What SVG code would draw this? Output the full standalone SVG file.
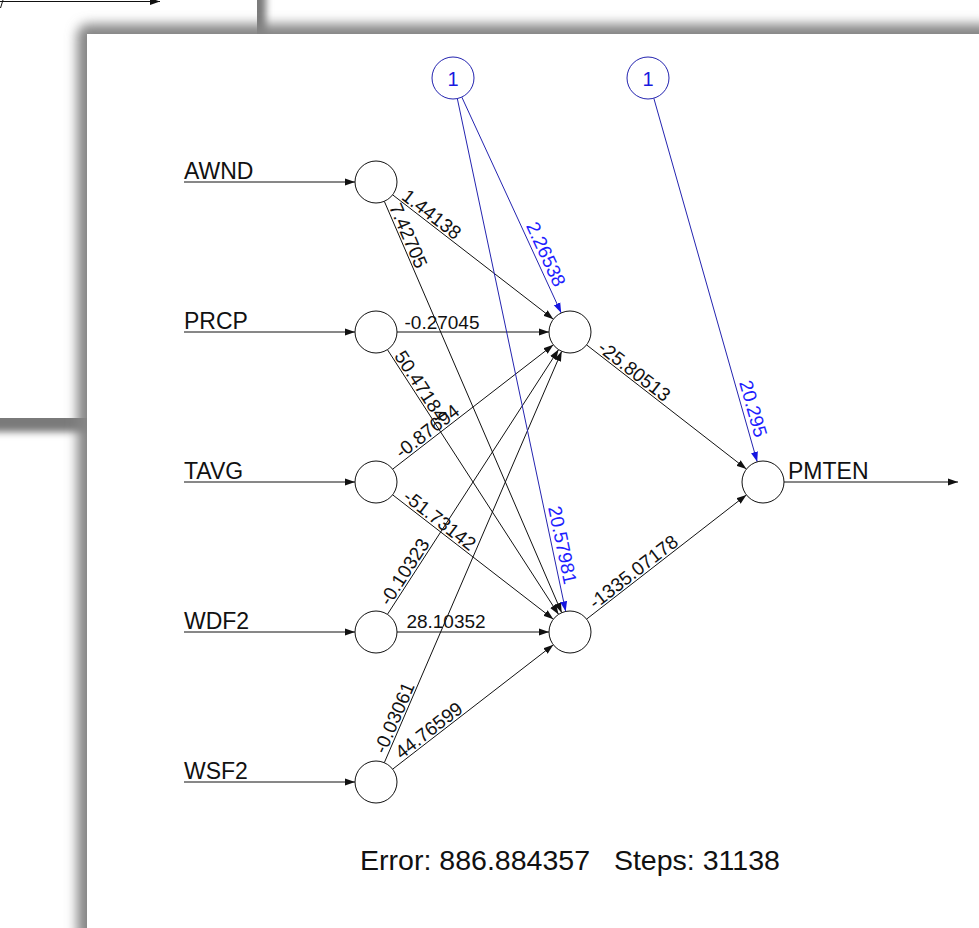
<svg xmlns="http://www.w3.org/2000/svg" width="979" height="928" viewBox="0 0 979 928">
<style>
text{font-family:"Liberation Sans",Arial,sans-serif}
.in{font-size:23px;fill:#111}
.w{font-size:19px;fill:#111;text-anchor:middle}
.wb{font-size:19px;fill:#1e1eff;text-anchor:middle}
.bt{font-size:20px;fill:#1a1ae0;text-anchor:middle}
.node{fill:#fff;stroke:#111;stroke-width:1}
.bias{fill:#fff;stroke:#2424b0;stroke-width:1}
.e{stroke:#111;stroke-width:1;fill:none;marker-end:url(#ah)}
.eb{stroke:#2424b0;stroke-width:1;fill:none;marker-end:url(#ahb)}
.foot{font-size:28px;fill:#111;white-space:pre}
</style>
<defs>
<marker id="ah" markerWidth="10" markerHeight="8" refX="10" refY="4" orient="auto" markerUnits="userSpaceOnUse"><path d="M0,0.5 L10,4 L0,7.5 z" fill="#111"/></marker>
<marker id="ahb" markerWidth="10" markerHeight="8" refX="10" refY="4" orient="auto" markerUnits="userSpaceOnUse"><path d="M0,0.5 L10,4 L0,7.5 z" fill="#1515e0"/></marker>
<filter id="sh" x="-10%" y="-10%" width="120%" height="120%"><feGaussianBlur stdDeviation="6"/></filter>
<filter id="sh2" x="-10%" y="-10%" width="120%" height="120%"><feGaussianBlur stdDeviation="3.5"/></filter>
</defs>
<rect x="0" y="0" width="979" height="928" fill="#fff"/>
<g id="back-window">
<rect x="-20" y="-20" width="286" height="452" fill="#7a7a7a" filter="url(#sh2)"/>
<rect x="-20" y="-20" width="277" height="438" fill="#fff"/>
<line x1="0" y1="1.5" x2="160" y2="1.5" stroke="#111" stroke-width="1" marker-end="url(#ah)"/>
<line x1="0.5" y1="8" x2="3" y2="0" stroke="#111" stroke-width="1"/>
</g>
<g id="front-window">
<rect x="77" y="24" width="920" height="920" rx="12" fill="#858585" filter="url(#sh)"/>
<rect x="87" y="34" width="900" height="900" fill="#fff"/>
</g>
<g id="connectors">
<line class="e" x1="184" y1="182" x2="355" y2="182"/>
<line class="e" x1="184" y1="332" x2="355" y2="332"/>
<line class="e" x1="184" y1="482" x2="355" y2="482"/>
<line class="e" x1="184" y1="632" x2="355" y2="632"/>
<line class="e" x1="184" y1="782" x2="355" y2="782"/>
<line class="e" x1="392.6" y1="194.8" x2="553.4" y2="319.2"/>
<line class="e" x1="384.3" y1="201.3" x2="561.7" y2="612.7"/>
<line class="e" x1="397" y1="332" x2="549" y2="332"/>
<line class="e" x1="387.4" y1="349.6" x2="558.6" y2="614.4"/>
<line class="e" x1="392.6" y1="469.2" x2="553.4" y2="344.8"/>
<line class="e" x1="392.6" y1="494.8" x2="553.4" y2="619.2"/>
<line class="e" x1="387.4" y1="614.4" x2="558.6" y2="349.6"/>
<line class="e" x1="397" y1="632" x2="549" y2="632"/>
<line class="e" x1="384.3" y1="762.7" x2="561.7" y2="351.3"/>
<line class="e" x1="392.6" y1="769.2" x2="553.4" y2="644.8"/>
<line class="e" x1="586.6" y1="344.9" x2="746.4" y2="469.1"/>
<line class="e" x1="586.6" y1="619.1" x2="746.4" y2="494.9"/>
<line class="e" x1="784" y1="482" x2="958" y2="482"/>
<line class="eb" x1="461.8" y1="97.1" x2="561.2" y2="312.9"/>
<line class="eb" x1="457.3" y1="98.5" x2="565.7" y2="611.4"/>
<line class="eb" x1="653.8" y1="98.2" x2="757.2" y2="461.8"/>
</g>
<g id="weights">
<text class="w" transform="translate(426.5 221) rotate(37.7)" y="-2">1.44138</text>
<text class="w" transform="translate(400.6 239) rotate(66.7)" y="-2">7.42705</text>
<text class="w" transform="translate(442 332)" y="-3">-0.27045</text>
<text class="w" transform="translate(413.7 390.4) rotate(57.1)" y="-2">50.47184</text>
<text class="w" transform="translate(432.5 438) rotate(-37.7)" y="-2">-0.87694</text>
<text class="w" transform="translate(434.5 527) rotate(37.7)" y="-2">-51.73142</text>
<text class="w" transform="translate(411.6 576.4) rotate(-57.1)" y="-2">-0.10323</text>
<text class="w" transform="translate(446 632)" y="-4">28.10352</text>
<text class="w" transform="translate(402 721) rotate(-66.7)" y="-2">-0.03061</text>
<text class="w" transform="translate(434 737) rotate(-37.7)" y="-2">44.76599</text>
<text class="w" transform="translate(629.1 377.9) rotate(37.85)" y="-2">-25.80513</text>
<text class="w" transform="translate(638.6 578.7) rotate(-37.85)" y="-2">-1335.07178</text>
<text class="wb" transform="translate(536.4 258.7) rotate(65.2)" y="-4">2.26538</text>
<text class="wb" transform="translate(552.2 547.2) rotate(78.06)" y="-4">20.57981</text>
<text class="wb" transform="translate(743.1 411.6) rotate(74.1)" y="-4">20.295</text>
</g>
<g id="in-AWND"><text class="in" x="184" y="179">AWND</text><circle class="node" cx="376" cy="182" r="21"/></g>
<g id="in-PRCP"><text class="in" x="184" y="329">PRCP</text><circle class="node" cx="376" cy="332" r="21"/></g>
<g id="in-TAVG"><text class="in" x="184" y="479">TAVG</text><circle class="node" cx="376" cy="482" r="21"/></g>
<g id="in-WDF2"><text class="in" x="184" y="629">WDF2</text><circle class="node" cx="376" cy="632" r="21"/></g>
<g id="in-WSF2"><text class="in" x="184" y="779">WSF2</text><circle class="node" cx="376" cy="782" r="21"/></g>
<g id="hidden-1"><circle class="node" cx="570" cy="332" r="21"/></g>
<g id="hidden-2"><circle class="node" cx="570" cy="632" r="21"/></g>
<g id="bias-1"><circle class="bias" cx="453" cy="78" r="21"/><text class="bt" x="453" y="86">1</text></g>
<g id="bias-2"><circle class="bias" cx="648" cy="78" r="21"/><text class="bt" x="648" y="86">1</text></g>
<g id="out-PMTEN"><circle class="node" cx="763" cy="482" r="21"/><text class="in" x="788" y="479">PMTEN</text></g>
<g id="footer"><text class="foot" x="360" y="870" textLength="420" lengthAdjust="spacingAndGlyphs">Error: 886.884357   Steps: 31138</text></g>
</svg>
